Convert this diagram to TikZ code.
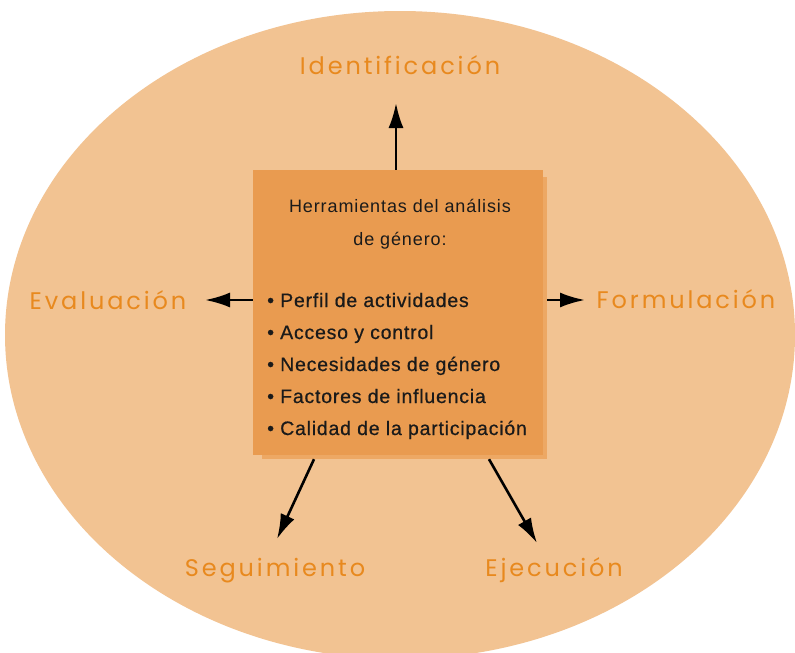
\documentclass[tikz,border=0pt]{standalone}
\usepackage{fontspec}
\setmainfont{Liberation Sans}
\newfontfamily\stagefont[LetterSpace=12]{Poppins}
\newfontfamily\titlefont[LetterSpace=5]{Liberation Sans}
\newfontfamily\toolfont[LetterSpace=4,FakeBold=0.6]{Liberation Sans}
\usetikzlibrary{arrows.meta}

\definecolor{ovalfill}{HTML}{F2C392}
\definecolor{boxfill}{HTML}{E99B50}
\definecolor{shadowfill}{HTML}{EDA864}
\definecolor{stagetext}{HTML}{E8891E}
\definecolor{tooltext}{HTML}{1A1A1A}

\tikzset{
  stage/.style={text=stagetext, inner sep=0pt, anchor=base,
    font=\stagefont\fontsize{24}{28}\selectfont},
  tool/.style={text=tooltext, inner sep=0pt, anchor=base west,
    font=\toolfont\fontsize{19.5}{23}\selectfont},
  flow/.style={line width=2.6pt, -{Latex[length=25pt,width=15pt]}},
}

\begin{document}
\begin{tikzpicture}[x=1pt,y=-1pt]
\useasboundingbox (0,0) rectangle (795,653);
\fill[white] (0,0) rectangle (795,653);

% Oval
\fill[ovalfill] (400,335) ellipse [x radius=395, y radius=324];

% Box and its shadow
\node[fill=shadowfill, minimum width=285pt, minimum height=282pt, inner sep=0pt] (shadow) at (404.5,318) {};
\node[fill=boxfill, minimum width=290pt, minimum height=285pt, inner sep=0pt] (tools) at (398,312.5) {};

% Title (base = last line)
\node[text=tooltext, inner sep=0pt, anchor=base, font=\titlefont\fontsize{18}{33}\selectfont,
  align=center] (title) at (400,245) {Herramientas del análisis\\de género:};

% List
\foreach \tool [count=\i] in {Perfil de actividades, Acceso y control,
  Necesidades de género, Factores de influencia, Calidad de la participación}
  \node[tool] (tool\i) at (267,275+32*\i) {• \tool};

% Stages
\node[stage] (ident) at (400,74) {Identificación};
\node[stage] (eval) at (108,309) {Evaluación};
\node[stage] (form) at (686,308) {Formulación};
\node[stage] (segui) at (275,576) {Seguimiento};
\node[stage] (ejec) at (554,576) {Ejecución};

% Arrow tips
\coordinate (toIdent) at (396,103);
\coordinate (toEval) at (205,300);
\coordinate (toForm) at (585,300);
\coordinate (toSegui) at (277,539);
\coordinate (toEjec) at (537,543);

\draw[flow] (tools.north -| toIdent) -- (toIdent);
\draw[flow] (tools.west |- toEval) -- (toEval);
\draw[flow] (shadow.east |- toForm) -- (toForm);
\draw[flow] ([xshift=-90.5pt]shadow.south) -- (toSegui);
\draw[flow] ([xshift=84.5pt]shadow.south) -- (toEjec);
\end{tikzpicture}
\end{document}
